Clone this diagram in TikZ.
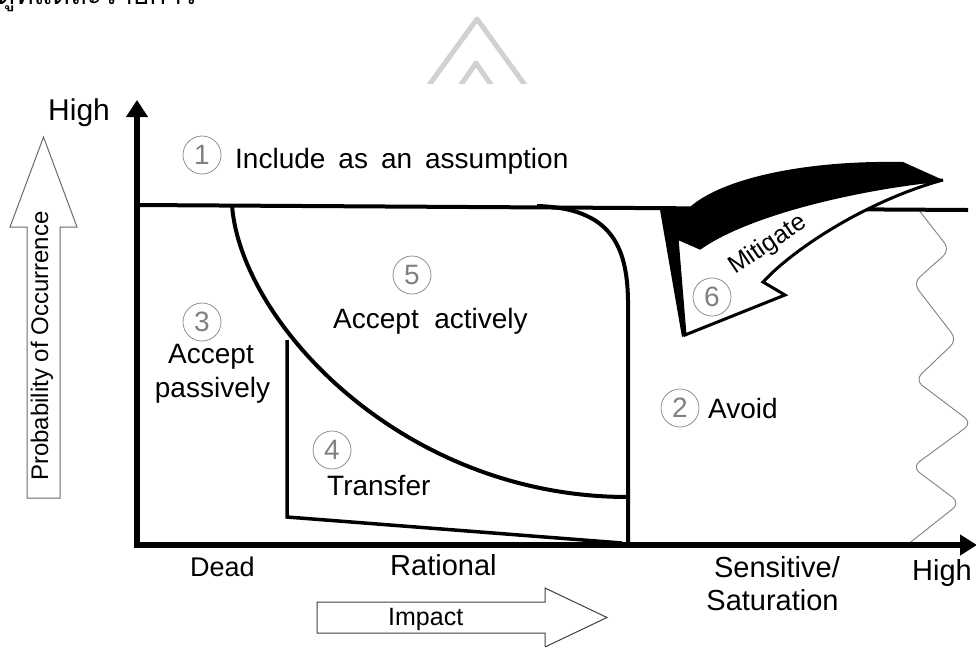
\documentclass[tikz,border=0pt]{standalone}
\usepackage{fontspec}
\setmainfont{Liberation Sans}
\newfontfamily\thaifont[Script=Thai]{Loma}
\usetikzlibrary{arrows.meta}

\begin{document}
\begin{tikzpicture}[x=1pt,y=-1pt,
  lbl/.style={inner sep=0pt, font=\fontsize{28}{33}\selectfont},
  num/.style={circle, draw=gray, line width=0.7pt, minimum size=38pt,
              inner sep=0pt, text=gray, font=\fontsize{28}{28}\selectfont},
  bound/.style={line width=4pt, line join=round},
  thinbound/.style={line width=3.5pt, line join=miter},
  axis/.style={line width=6pt, line join=miter,
               {Triangle[length=17pt,width=21pt]}-{Triangle[length=17pt,width=20pt]}},
  hollow/.style={line width=1pt, fill=white},
  wave/.style={draw=gray, line width=0.9pt, rounded corners=9pt},
  mark3d/.style={fill=black},
  face/.style={fill=white, draw=black, line width=3pt, line join=miter},
  wmark/.style={draw=black!18, line width=5pt, line join=round}]

\useasboundingbox (0,0) rectangle (976,646);

% faint logo at the top
\begin{scope}
  \clip (0,0) rectangle (976,83);
  \draw[wmark] (424,92) -- (477,19) -- (530,92);
  \draw[wmark] (456,92) -- (476,63) -- (496,92);
\end{scope}

% heading line (only its lower part lies on the page)
\node[anchor=base west, inner sep=0pt, font=\fontsize{28}{28}\selectfont]
  (thai) at (-3,4) {\thaifont ดูที่แต่ละรายการ};

% probability arrow on the left
\draw[hollow, draw={rgb,255:red,95;green,115;blue,95}]
  (27,498) -- (27,227) -- (10,227) -- (43.5,137) -- (77,227) -- (60,227) -- (60,498) -- cycle;
\node[rotate=90, inner sep=0pt, font=\fontsize{24}{24}\selectfont] (prob) at (42,346)
  {Probability of Occurrence};

% impact arrow at the bottom
\draw[hollow, draw=black!75]
  (317,602) -- (545,602) -- (545,588) -- (607,617.5) -- (545,647) -- (545,633) -- (317,633) -- cycle;
\node[anchor=base west, inner sep=0pt, font=\fontsize{25}{25}\selectfont] (impact) at (388,625) {Impact};

% boundary to the saturation zone
\draw[wave] (918,209) -- (950,250) -- (913,283) -- (957,340) -- (915,380)
  -- (972,423) -- (912,467) -- (960,503) -- (907,545);

% upper threshold
\coordinate (tl) at (137,205);
\coordinate (tr) at (968,210);
\draw[bound] (tl) -- (tr);

% region 5 (accept actively)
\coordinate (c5a) at (232,205);
\coordinate (c5b) at (628,497);
\draw[bound] (c5a) .. controls (240,320) and (400,497) .. (c5b);
\coordinate (r5a) at (537,206);
\coordinate (r5b) at (628,300);
\coordinate (r5c) at (628,545);
\draw[bound] (r5a) .. controls (610,208) and (627,245) .. (r5b) -- (r5c);

% region 4 (transfer)
\coordinate (t4a) at (287,340);
\coordinate (t4b) at (287,517);
\coordinate (t4c) at (622,543);
\draw[thinbound] (t4a) -- (t4b) -- (t4c);

% axes
\coordinate (ytip) at (137,100);
\coordinate (origin) at (137,545);
\coordinate (xtip) at (977,545);
\draw[axis] (ytip) -- (origin) -- (xtip);

% mitigate arrow: dark side first, then the face
\coordinate (mtip) at (943,180);
\fill[mark3d] (mtip) -- (903,162) .. controls (800,160) and (720,180) .. (690,207)
  -- (660,210) -- (682,337) -- (685,335) -- (677,238) -- (700,248)
  .. controls (750,213) and (860,188) .. (mtip) -- cycle;
\draw[face] (mtip) .. controls (860,188) and (750,213) .. (700,248)
  -- (677,238) -- (685,335) -- (785,295) -- (763,282) -- (773,272)
  .. controls (812,236) and (880,197) .. (mtip) -- cycle;
\node[lbl, rotate=34, font=\fontsize{25}{25}\selectfont] (mit) at (768,245) {Mitigate};

% numbered regions
\node[num] (n1) at (202,155) {1};
\node[lbl, anchor=base west] (l1) at (235,168) {Include\hspace{13pt}as\hspace{13pt}an\hspace{13pt}assumption};

\node[num] (n3) at (202,322) {3};
\node[lbl, anchor=base] (l3a) at (211,363) {Accept};
\node[lbl, anchor=base] (l3b) at (212.5,397) {passively};

\node[num] (n5) at (412,275) {5};
\node[lbl, anchor=base west] (l5) at (333,328) {Accept~~actively};

\node[num] (n4) at (332,450) {4};
\node[lbl, anchor=base west] (l4) at (327,495) {Transfer};

\node[num] (n2) at (680,408) {2};
\node[lbl, anchor=west] (l2) at (708,408) {Avoid};

\node[num] (n6) at (712,297) {6};

% axis labels
\node[lbl, anchor=base west, font=\fontsize{30}{30}\selectfont] (yhigh) at (48,120) {High};
\node[lbl, anchor=base west, font=\fontsize{27}{27}\selectfont] (dead) at (190,576) {Dead};
\node[lbl, anchor=base west, font=\fontsize{29}{29}\selectfont] (rational) at (390,575) {Rational};
\node[lbl, anchor=base, font=\fontsize{29}{29}\selectfont] (sens) at (777,577) {Sensitive/};
\node[lbl, anchor=base, font=\fontsize{29}{29}\selectfont] (satu) at (772.5,610) {Saturation};
\node[lbl, anchor=base west, font=\fontsize{29}{29}\selectfont] (xhigh) at (912,580) {High};

\end{tikzpicture}
\end{document}
